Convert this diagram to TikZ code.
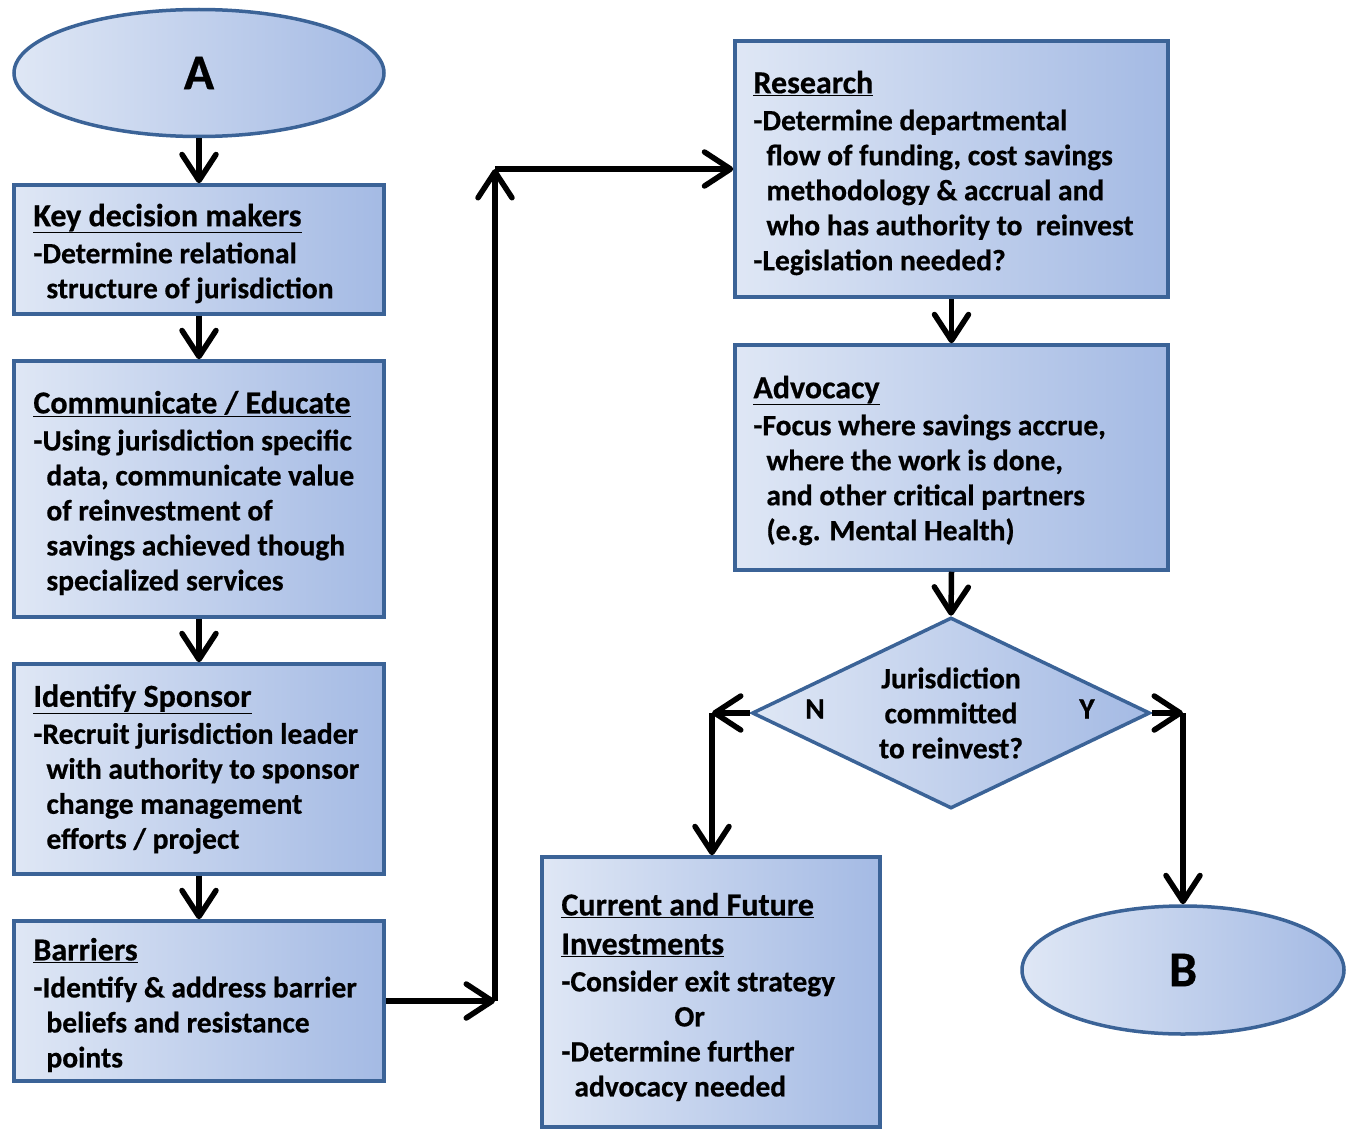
\documentclass[tikz,border=0pt]{standalone}
\usepackage{fontspec}
\setmainfont{Carlito}[BoldFeatures={FakeBold=0.6}]
\usetikzlibrary{shapes.geometric,arrows.meta}
\definecolor{edgeblue}{RGB}{59,99,151}
\definecolor{fillA}{RGB}{223,231,245}
\definecolor{fillB}{RGB}{164,186,228}
\newcommand\myfont{\fontsize{29.5}{35}\selectfont\bfseries}
\newcommand\ind{\hspace*{13pt}}
\newcommand\ttl[1]{{\fontsize{32}{35}\selectfont\underline{#1}}}
\begin{document}
\begin{tikzpicture}[x=1pt,y=-1pt,
  box/.style={rectangle,draw=edgeblue,line width=3.5pt,left color=fillA,right color=fillB,inner sep=0pt},
  txt/.style={anchor=west,align=left,inner sep=0pt,font=\myfont},
  ell/.style={ellipse,draw=edgeblue,line width=3.5pt,left color=fillA,right color=fillB,
    inner sep=0pt,font=\fontsize{50}{50}\selectfont\bfseries},
  dec/.style={diamond,draw=edgeblue,line width=3.5pt,left color=fillA,right color=fillB,
    shape aspect=2.1,inner sep=0pt,align=center,font=\myfont},
  lbl/.style={font=\myfont,inner sep=0pt},
  arr/.style={line width=5.5pt,-{Straight Barb[length=26pt,width=34pt,round]}}]
\useasboundingbox (0,0) rectangle (1349,1129);

\node[ell,minimum width=370,minimum height=127] (A) at (199,73) {A};

\node[box,minimum width=370,minimum height=129] (key) at (199,249.5) {};
\node[txt] (keyt) at ([xshift=21pt,yshift=-4pt]key.west)
  {\ttl{Key decision makers}\\[2pt]-Determine relational\\\ind structure of jurisdiction};

\node[box,minimum width=370,minimum height=256] (comm) at (199,489) {};
\node[txt] (commt) at ([xshift=21pt,yshift=-4pt]comm.west)
  {\ttl{Communicate / Educate}\\[2pt]-Using jurisdiction specific\\\ind data, communicate value\\\ind of reinvestment of\\\ind savings achieved though\\\ind specialized services};

\node[box,minimum width=370,minimum height=210] (spon) at (199,769) {};
\node[txt] (spont) at ([xshift=21pt,yshift=0pt]spon.west)
  {\ttl{Identify Sponsor}\\[2pt]-Recruit jurisdiction leader\\\ind with authority to sponsor\\\ind change management\\\ind efforts / project};

\node[box,minimum width=370,minimum height=160] (bar) at (199,1001) {};
\node[txt] (bart) at ([xshift=21pt,yshift=-4pt]bar.west)
  {\ttl{Barriers}\\[2pt]-Identify \& address barrier\\\ind beliefs and resistance\\\ind points};

\node[box,minimum width=433,minimum height=256] (res) at (951.5,169) {};
\node[txt] (rest) at ([xshift=20pt,yshift=-4pt]res.west)
  {\ttl{Research}\\[2pt]-Determine departmental\\\ind flow of funding, cost savings\\\ind methodology \& accrual and\\\ind who has authority to\ \ reinvest\\-Legislation needed?};

\node[box,minimum width=433,minimum height=225] (adv) at (951.5,457.5) {};
\node[txt] (advt) at ([xshift=20pt,yshift=-3pt]adv.west)
  {\ttl{Advocacy}\\[2pt]-Focus where savings accrue,\\\ind where the work is done,\\\ind and other critical partners\\\ind (e.g. Mental Health)};

\node[dec,minimum width=398,minimum height=191] (dec) at (951,713)
  {Jurisdiction\\committed\\to reinvest?};
\node[lbl] (n) at (815,709) {N};
\node[lbl] (y) at (1087,709) {Y};

\node[box,minimum width=338,minimum height=270] (cur) at (711,992) {};
\node[txt] (curt) at ([xshift=21pt,yshift=-5pt]cur.west)
  {\ttl{Current and Future}\\[4pt]\ttl{Investments}\\[2pt]-Consider exit strategy\\\hspace*{113pt}Or\\-Determine further\\\ind advocacy needed};

\node[ell,minimum width=322,minimum height=128] (B) at (1183,970) {B};

\coordinate (c1) at (495,1001);
\coordinate (c2) at (495,169);
\coordinate (nl) at (712,713);
\coordinate (yr) at (1183,713);

\draw[arr] (A.south) -- (key.north);
\draw[arr] (key.south) -- (comm.north);
\draw[arr] (comm.south) -- (spon.north);
\draw[arr] (spon.south) -- (bar.north);
\draw[arr] (bar.east) -- (c1);
\draw[arr] (c1) -- (c2);
\draw[arr] (c2) -- (res.west);
\draw[arr] (res.south) -- (adv.north);
\draw[arr] (adv.south) -- (dec.north);
\draw[arr] (dec.west) -- (nl);
\draw[arr] (nl) -- (nl |- cur.north);
\draw[arr] (dec.east) -- (yr);
\draw[arr] (yr) -- (B.north);
\end{tikzpicture}
\end{document}
